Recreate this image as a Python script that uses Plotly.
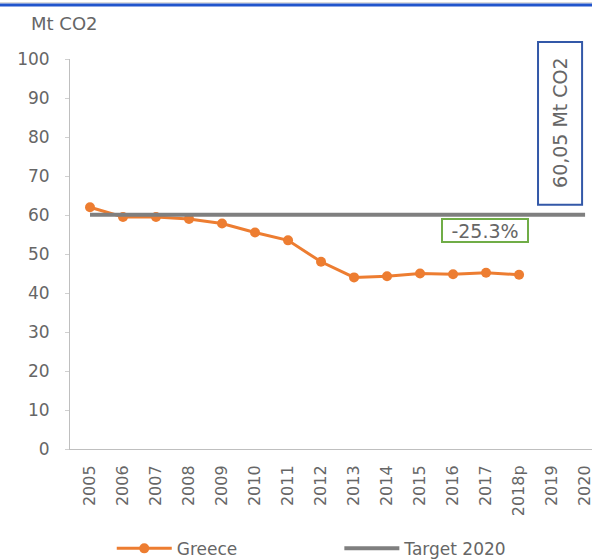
import plotly.graph_objects as go

years = ["2005", "2006", "2007", "2008", "2009", "2010", "2011", "2012",
         "2013", "2014", "2015", "2016", "2017", "2018p", "2019", "2020"]
greece_years = years[:14]
greece_values = [62.0, 59.5, 59.5, 59.0, 57.8, 55.5, 53.5, 48.0,
                 44.0, 44.3, 45.0, 44.8, 45.2, 44.7]
target_years = years
target_values = [60.05] * len(years)
y_ticks = [0, 10, 20, 30, 40, 50, 60, 70, 80, 90, 100]

ORANGE = "#ED7D31"
GRAY = "#7F7F7F"
TXT = "#666666"
FONT = "DejaVu Sans"

fig = go.Figure()
fig.add_trace(go.Scatter(
    x=greece_years, y=greece_values, name="Greece", mode="lines+markers",
    line=dict(color=ORANGE, width=3), marker=dict(color=ORANGE, size=10),
    legend="legend",
))
fig.add_trace(go.Scatter(
    x=target_years, y=target_values, name="Target 2020", mode="lines",
    line=dict(color=GRAY, width=4), legend="legend2",
))

legend_common = dict(orientation="h", yanchor="middle", xanchor="left",
                     yref="container", xref="paper",
                     font=dict(size=17, color=TXT, family=FONT), itemwidth=55,
                     bgcolor="rgba(0,0,0,0)")

fig.update_layout(
    width=592, height=560,
    margin=dict(l=70, r=0, t=59, b=111),
    paper_bgcolor="white", plot_bgcolor="white",
    font=dict(family=FONT, color=TXT, size=14),
    showlegend=True,
    legend=dict(x=0.08, y=0.02, **legend_common),
    legend2=dict(x=0.516, y=0.02, **legend_common),
    xaxis=dict(
        type="category", categoryorder="array", categoryarray=years,
        range=[-0.606, 15.21], tickangle=-90, showgrid=False,
        showline=True, linecolor="#BFBFBF", linewidth=1, automargin=False,
        ticks="", tickfont=dict(size=16, color=TXT), ticklabelstandoff=9,
    ),
    yaxis=dict(
        range=[0, 100], tickvals=y_ticks, showgrid=False, automargin=False,
        showline=True, linecolor="#BFBFBF", linewidth=1,
        ticks="outside", ticklen=4, tickcolor="#D0D0D0",
        tickfont=dict(size=17, color=TXT), ticklabelstandoff=12, zeroline=False,
    ),
)

# axis title annotation
fig.add_annotation(text="Mt CO2", xref="paper", yref="paper", x=-0.01, y=1.09,
                   xanchor="center", yanchor="middle",
                   showarrow=False, font=dict(size=18, color=TXT))

# vertical box
fig.add_shape(type="rect", xref="paper", yref="paper",
              x0=0.8966, x1=0.981, y0=0.626, y1=1.0436,
              line=dict(color="#3358A8", width=2), fillcolor="white")
fig.add_annotation(text="60,05 Mt CO2", xref="paper", yref="paper", x=0.9387, y=0.836,
                   xanchor="center", yanchor="middle",
                   showarrow=False, textangle=-90, font=dict(size=19, color=TXT))

# percentage box
fig.add_annotation(text="-25.3%", xref="paper", yref="paper", x=0.795, y=0.561,
                   xanchor="center", yanchor="middle",
                   showarrow=False, font=dict(size=19, color=TXT),
                   bordercolor="#70AD47", borderwidth=2, borderpad=1,
                   width=82, height=19, bgcolor="white")

# top frame lines
fig.add_shape(type="line", xref="paper", yref="paper", x0=-0.14, x1=1.01,
              y0=1.144, y1=1.144, line=dict(color="#C8C8C8", width=1))
fig.add_shape(type="line", xref="paper", yref="paper", x0=-0.14, x1=1.01,
              y0=1.1385, y1=1.1385, line=dict(color="#2255CC", width=3))

fig.write_html("out.html", config={"displayModeBar": False},
               post_script="document.body.style.margin='0';")
